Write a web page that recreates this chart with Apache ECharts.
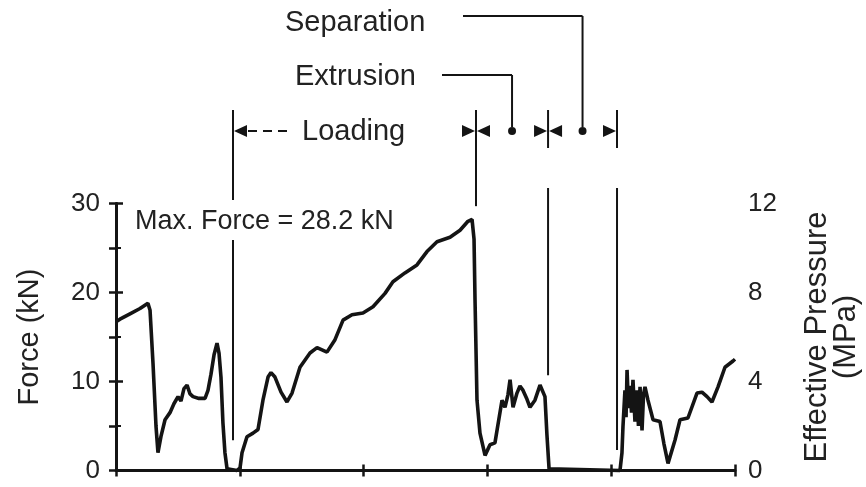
<!DOCTYPE html>
<html>
<head>
<meta charset="utf-8">
<script src="https://cdn.jsdelivr.net/npm/echarts@6/dist/echarts.min.js"></script>
<style>
  html, body { margin: 0; padding: 0; background: #fff; }
  #main { width: 866px; height: 487px; }
</style>
</head>
<body>
<div id="main"></div>
<script>
// Force trace over one forming cycle (time in arbitrary units, force in kN)
const timeS = [
  0.00, 0.32, 1.13, 1.94, 2.58, 2.75, 2.99, 3.23, 3.39, 3.63, 3.96, 4.36, 4.68, 5.01,
  5.25, 5.49, 5.74, 5.98, 6.22, 6.70, 7.19, 7.43, 7.67, 7.92, 8.16, 8.32, 8.48, 8.64,
  8.80, 8.97, 9.77,
  10.02, 10.18, 10.58, 11.07, 11.47, 11.87, 12.28, 12.52, 12.84, 13.33, 13.81, 14.22,
  14.86, 15.67, 16.24, 17.04, 17.69, 18.34, 19.06, 19.95, 20.76, 21.73, 22.37, 23.34,
  24.31, 25.12, 25.93, 26.98, 27.79, 28.43, 28.76, 28.92, 29.00, 29.16, 29.40, 29.81,
  30.21, 30.61, 31.18, 31.42, 31.66, 31.83, 32.07, 32.39, 32.63, 32.88, 33.20, 33.44,
  33.84, 34.25, 34.65, 34.81, 34.98,
  40.71, 40.87, 40.95, 41.11, 41.20, 41.28, 41.40, 41.52, 41.64, 41.76, 41.92, 42.08,
  42.20, 42.33, 42.49, 42.61, 42.73, 42.97, 43.38,
  43.94, 44.26, 44.59, 45.15, 45.56, 46.20, 46.93, 47.33, 47.74, 48.14, 48.63, 49.19,
  49.84, 50.00
];
const forceKN = [
  16.7, 17.0, 17.6, 18.2, 18.8, 18.0, 12.0, 5.0, 2.0, 3.8, 5.7, 6.5, 7.5, 8.3,
  7.8, 9.2, 9.6, 8.6, 8.3, 8.1, 8.1, 9.0, 10.8, 13.0, 14.3, 13.2, 10.5, 5.3,
  2.0, 0.2, 0.0,
  0.3, 2.0, 3.8, 4.2, 4.6, 7.9, 10.5, 11.0, 10.5, 8.8, 7.7, 8.7,
  11.6, 13.2, 13.8, 13.3, 14.7, 16.9, 17.5, 17.7, 18.4, 19.9, 21.2, 22.2,
  23.1, 24.6, 25.7, 26.2, 27.0, 28.0, 28.2, 26.0, 19.2, 7.9, 4.2, 1.7,
  2.9, 3.1, 7.9, 7.1, 8.5, 10.2, 7.1, 8.7, 9.5, 9.0, 8.0, 7.1,
  7.9, 9.6, 8.3, 4.0, 0.2,
  0.0, 2.0, 4.9, 9.0, 6.0, 11.3, 7.0, 9.5, 6.5, 10.2, 5.5, 9.0,
  5.0, 9.4, 4.5, 8.5, 9.4, 7.9, 5.7,
  5.5, 3.0, 0.8, 3.4, 5.7, 5.9, 8.7, 8.8, 8.3, 7.7, 9.4, 11.6,
  12.3, 12.5
];

// Phase boundaries: loading start, loading end, extrusion end, separation end
const phaseEdges = [9.45, 29.08, 34.9, 40.47];
// Force level (kN) where each boundary marker ends inside the plot
const edgeLowerEnds = [3.4, 29.7, 10.7, 2.3];

const maxForce = 28.2;
const forceTicks = [0, 10, 20, 30];
const pressureTicks = [0, 4, 8, 12];
const phaseNames = ['Loading', 'Extrusion', 'Separation'];

const ink = '#141414';
const font = 'Liberation Sans, Arial, Helvetica, sans-serif';

const chart = echarts.init(document.getElementById('main'), null, { renderer: 'canvas' });

const series = [{
  type: 'line',
  data: timeS.map((t, i) => [t, forceKN[i]]),
  showSymbol: false,
  smooth: false,
  lineStyle: { color: ink, width: 3.6 },
  clip: false,
  z: 5
}];

chart.setOption({
  animation: false,
  backgroundColor: '#fff',
  grid: { left: 116, right: 131, top: 203.5, bottom: 16.5, containLabel: false, outerBoundsMode: 'none' },
  xAxis: [{
    type: 'value', min: 0, max: 50, interval: 10,
    axisLine: { show: true, onZero: false, lineStyle: { color: ink, width: 3 } },
    axisTick: { show: true, inside: false, length: 6, lineStyle: { color: ink, width: 2.5 } },
    axisLabel: { show: false },
    splitLine: { show: false }
  }, {
    type: 'value', min: 0, max: 50, interval: 10, position: 'bottom',
    axisLine: { show: false },
    axisTick: { show: true, inside: true, length: 6, lineStyle: { color: ink, width: 2.5 } },
    axisLabel: { show: false },
    splitLine: { show: false }
  }],
  yAxis: [{
    type: 'value', min: forceTicks[0], max: forceTicks[forceTicks.length - 1], interval: 10,
    position: 'left',
    name: 'Force (kN)', nameLocation: 'middle', nameGap: 72, nameRotate: 90,
    nameTextStyle: { fontFamily: font, fontSize: 29, color: '#222' },
    axisLine: { show: true, lineStyle: { color: ink, width: 3 } },
    axisTick: { show: true, inside: true, length: 7, lineStyle: { color: ink, width: 2.5 } },
    minorTick: { show: true, splitNumber: 2, length: 5, lineStyle: { color: ink, width: 2 } },
    axisLabel: { fontFamily: font, fontSize: 26, color: '#222', margin: 16 },
    splitLine: { show: false }
  }, {
    type: 'value', min: pressureTicks[0], max: pressureTicks[pressureTicks.length - 1], interval: 4,
    position: 'right',
    name: 'Effective Pressure\n(MPa)', nameLocation: 'middle', nameGap: 68, nameRotate: 90,
    nameTextStyle: { fontFamily: font, fontSize: 31, color: '#222', lineHeight: 29, align: 'center' },
    axisLine: { show: true, lineStyle: { color: ink, width: 3 } },
    axisTick: { show: true, inside: true, length: 7, lineStyle: { color: ink, width: 2.5 } },
    minorTick: { show: true, splitNumber: 2, length: 7, lineStyle: { color: ink, width: 2.5 } },
    axisLabel: { fontFamily: font, fontSize: 26, color: '#222', margin: 13 },
    splitLine: { show: false }
  }],
  series: series
});

// Phase markers and labels above the trace
const px = t => chart.convertToPixel({ xAxisIndex: 0 }, t);
const py = v => chart.convertToPixel({ yAxisIndex: 0 }, v);
const e = phaseEdges.map(px);
const rowY = 131;
const topY = 110;

const g = [];
const seg = (x1, y1, x2, y2, w, dash) => g.push({
  type: 'line', silent: true, z: 10,
  shape: { x1, y1, x2, y2 },
  style: { stroke: ink, lineWidth: w || 2, lineDash: dash || null }
});
const tri = (tipX, dir) => g.push({
  type: 'polygon', silent: true, z: 10,
  shape: { points: [[tipX, rowY], [tipX - dir * 13, rowY - 6], [tipX - dir * 13, rowY + 6]] },
  style: { fill: ink }
});
const dot = (x) => g.push({
  type: 'circle', silent: true, z: 10,
  shape: { cx: x, cy: rowY, r: 4 }, style: { fill: ink }
});
const label = (text, x, y, size) => g.push({
  type: 'text', silent: true, z: 11,
  style: {
    text, x, y, fontFamily: font, fontSize: size, fill: '#222',
    textAlign: 'left', textVerticalAlign: 'middle'
  }
});

// boundary lines
seg(e[0], topY, e[0], 200);
seg(e[0], 240, e[0], py(edgeLowerEnds[0]));
seg(e[1], topY, e[1], py(edgeLowerEnds[1]));
seg(e[2], topY, e[2], 148);
seg(e[2], 188, e[2], py(edgeLowerEnds[2]));
seg(e[3], topY, e[3], 148);
seg(e[3], 188, e[3], py(edgeLowerEnds[3]));

// loading span: arrow at its start and a dashed lead to the label
tri(e[0] + 1, -1);
seg(e[0] + 15, rowY, e[0] + 58, rowY, 2, [9, 6]);
label(phaseNames[0], 302, rowY + 1, 29);

// arrow pairs at the later boundaries
tri(e[1] - 1, 1); tri(e[1] + 1, -1);
tri(e[2] - 1, 1); tri(e[2] + 1, -1);
tri(e[3] - 1, 1);

const mid1 = (e[1] + e[2]) / 2;
const mid2 = (e[2] + e[3]) / 2;
dot(mid1); dot(mid2);

// leaders to the phase names
seg(mid1, rowY - 4, mid1, 75);
seg(mid1, 75, 442, 75);
label(phaseNames[1], 295, 77, 29);

seg(mid2, rowY - 4, mid2, 16);
seg(mid2, 16, 463, 16);
label(phaseNames[2], 285, 23, 29);

// peak force note
label('Max. Force = ' + maxForce + ' kN', 135, 222, 27);

chart.setOption({ graphic: g });
</script>
</body>
</html>
